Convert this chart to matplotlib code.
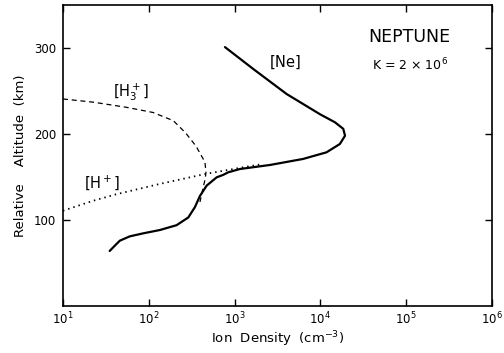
import matplotlib
matplotlib.use("Agg")
import matplotlib.pyplot as plt
from matplotlib.ticker import NullLocator, FixedLocator

plt.rcParams['font.family'] = ['DejaVu Sans']
plt.rcParams['mathtext.fontset'] = 'dejavusans'

# [Ne] profile
ne_density = [35, 40, 46, 60, 86, 135, 211, 289, 345, 395, 473, 618, 738, 845,
              1156, 2590, 6300, 11800, 16900, 19400, 18500, 14800, 9890,
              4040, 1650, 773]
ne_alt = [64, 70, 76, 81, 84.5, 88.4, 94, 103, 115, 128, 140, 149.6, 152.5, 155.5,
          159.3, 164, 171, 178.7, 188.4, 198, 206, 213.6, 223,
          246.5, 275.6, 301]

# [H3+] profile
h3_density = [10, 22.5, 55, 112, 193, 241, 275, 330, 362, 431, 452, 464, 455, 431, 395]
h3_alt = [240.7, 237, 231, 225, 215.5, 206, 200, 190, 184.5, 171, 167, 155.5, 148, 138, 121]

# [H+] profile
hp_density = [10, 22.5, 42, 135, 455, 1380, 1980]
hp_alt = [110.8, 122.4, 130, 142, 153.5, 162, 164.5]

x_ticks = [1e1, 1e2, 1e3, 1e4, 1e5, 1e6]
y_ticks = [100, 200, 300]

fig = plt.figure(figsize=(5.04, 3.53), dpi=100)
ax = fig.add_axes([0.125, 0.133, 0.851, 0.853])

ax.plot(ne_density, ne_alt, color='black', lw=1.6, solid_capstyle='round',
        solid_joinstyle='round')
ax.plot(h3_density, h3_alt, color='black', lw=0.9, ls=(0, (4, 3)))
ax.plot(hp_density, hp_alt, color='black', lw=1.3, ls=(0, (0.8, 2.2)))

ax.set_xscale('log')
ax.set_xlim(1e1, 1e6)
ax.set_ylim(0, 350)
ax.xaxis.set_major_locator(FixedLocator(x_ticks))
ax.xaxis.set_minor_locator(NullLocator())
ax.set_yticks(y_ticks)

ax.tick_params(direction='in', top=True, right=True, length=5, width=1,
               labelsize=8.5)
ax.tick_params(axis='x', pad=3)
ax.tick_params(axis='y', pad=5)
for s in ax.spines.values():
    s.set_linewidth(1.2)

ax.set_xlabel('Ion  Density  (cm$^{-3}$)', fontsize=9.5, labelpad=2)
ax.set_ylabel('Relative    Altitude  (km)', fontsize=9.5, labelpad=5)

ax.text(3860, 283, r'$[\mathrm{Ne}]$', fontsize=10.5, ha='center', va='center')
ax.text(63, 249, r'$[\mathrm{H}_3^+]$', fontsize=10.5, ha='center', va='center')
ax.text(29, 144, r'$[\mathrm{H}^+]$', fontsize=10.5, ha='center', va='center')
ax.text(1.1e5, 313, 'NEPTUNE', fontsize=12.5, ha='center', va='center')
ax.text(1.1e5, 280, r'K = 2 × 10$^6$', fontsize=9, ha='center', va='center')

fig.savefig('out.png', dpi=100)
